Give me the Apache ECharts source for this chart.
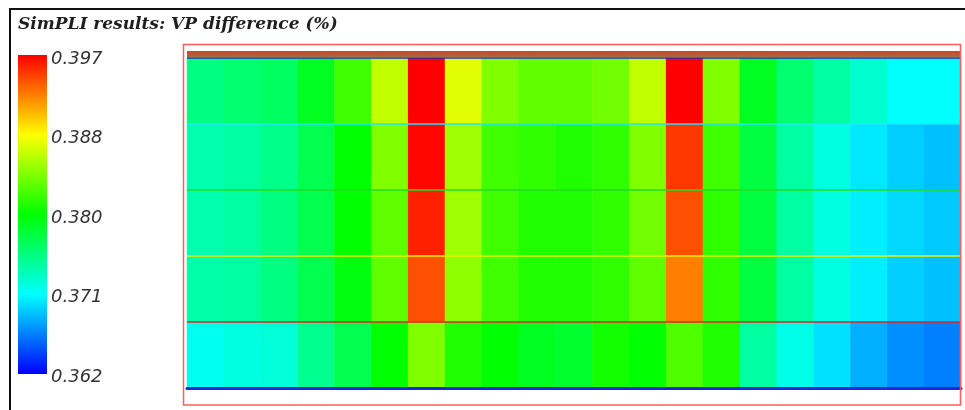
<!DOCTYPE html>
<html>
<head>
<meta charset="utf-8">
<script src="https://cdn.jsdelivr.net/npm/echarts@6/dist/echarts.min.js"></script>
<style>
  html, body { margin: 0; padding: 0; background: #fff; }
  #chart { width: 965px; height: 410px; }
</style>
</head>
<body>
<div id="chart"></div>
<script>
// Slices along the profile (columns) and layers from top to bottom (rows)
const columns = ['1','2','3','4','5','6','7','8','9','10','11','12','13','14','15','16','17','18','19','20','21'];
const layers = ['L1', 'L2', 'L3', 'L4', 'L5'];

// VP difference (%) per slice, one array per layer
const layer1 = [0.3751, 0.3757, 0.3762, 0.3784, 0.3817, 0.3861, 0.3970, 0.3872, 0.3839, 0.3828, 0.3828,
                0.3834, 0.3861, 0.3970, 0.3839, 0.3784, 0.3757, 0.3740, 0.3724, 0.3708, 0.3708];
const layer2 = [0.3735, 0.3740, 0.3748, 0.3768, 0.3795, 0.3839, 0.3968, 0.3850, 0.3817, 0.3811, 0.3806,
                0.3811, 0.3839, 0.3951, 0.3817, 0.3773, 0.3740, 0.3718, 0.3700, 0.3691, 0.3686];
const layer3 = [0.3735, 0.3740, 0.3751, 0.3768, 0.3795, 0.3828, 0.3959, 0.3850, 0.3817, 0.3806, 0.3806,
                0.3811, 0.3834, 0.3943, 0.3811, 0.3773, 0.3740, 0.3718, 0.3702, 0.3694, 0.3689];
const layer4 = [0.3737, 0.3740, 0.3751, 0.3768, 0.3790, 0.3828, 0.3943, 0.3844, 0.3817, 0.3806, 0.3806,
                0.3811, 0.3828, 0.3926, 0.3811, 0.3773, 0.3740, 0.3718, 0.3702, 0.3691, 0.3686];
const layer5 = [0.3713, 0.3718, 0.3721, 0.3746, 0.3768, 0.3795, 0.3839, 0.3806, 0.3795, 0.3784, 0.3779,
                0.3801, 0.3795, 0.3822, 0.3806, 0.3740, 0.3715, 0.3697, 0.3680, 0.3669, 0.3664];

// Colour scale
const scaleMin = 0.362;
const scaleMax = 0.397;
const scaleTicks = ['0.362', '0.371', '0.380', '0.388', '0.397'];
const jet = ['#0000ff', '#00ffff', '#00ff00', '#ffff00', '#ff0000'];
const layerLineColors = ['#2a2ab8', '#22e4ff', '#22dd22', '#f2f200', '#e02424', '#1428e6'];

const layerValues = [layer1, layer2, layer3, layer4, layer5];
const cells = [];
layerValues.forEach((vals, row) => {
  vals.forEach((v, col) => cells.push([col, row, v]));
});

// Square-cornered colour bar: top = max (red), bottom = min (blue)
const barStops = jet.slice().reverse().map((c, i, arr) => ({ offset: i / (arr.length - 1), color: c }));

const chart = echarts.init(document.getElementById('chart'), null, { renderer: 'canvas' });

chart.setOption({
  animation: false,
  backgroundColor: '#ffffff',
  grid: [
    { left: 187, top: 58, width: 774, height: 330 },
    { left: 18, top: 59, width: 29, height: 318 }
  ],
  xAxis: [
    {
      type: 'category', gridIndex: 0, data: columns, z: 10,
      axisLine: { show: true, lineStyle: { color: '#1428e6', width: 3 } },
      axisTick: { show: false }, axisLabel: { show: false }, splitLine: { show: false }
    },
    { type: 'value', gridIndex: 1, show: false }
  ],
  yAxis: [
    {
      type: 'category', gridIndex: 0, data: layers, inverse: true, z: 10,
      axisLine: { show: false }, axisTick: { show: false }, axisLabel: { show: false },
      splitLine: { show: true, lineStyle: { color: layerLineColors, width: 1.5 } }
    },
    {
      type: 'category', gridIndex: 1, data: scaleTicks, boundaryGap: false, position: 'right',
      axisLine: { show: false }, axisTick: { show: false }, splitLine: { show: false },
      axisLabel: {
        show: true, margin: 4, color: '#333333', fontSize: 18,
        fontStyle: 'italic', fontFamily: 'DejaVu Sans'
      }
    }
  ],
  visualMap: {
    type: 'continuous',
    show: false,
    min: scaleMin, max: scaleMax,
    seriesIndex: 0,
    inRange: { color: jet }
  },
  series: [
    {
      type: 'heatmap',
      xAxisIndex: 0, yAxisIndex: 0,
      data: cells,
      itemStyle: { borderWidth: 0 },
      emphasis: { disabled: true }
    }
  ],
  graphic: [
    {
      type: 'rect', z: 0, silent: true,
      shape: { x: 10, y: 9, width: 1000, height: 500 },
      style: { fill: 'none', stroke: '#111111', lineWidth: 2 }
    },
    {
      type: 'text', z: 20, silent: true,
      x: 18, y: 25,
      style: {
        text: 'SimPLI results: VP difference (%)',
        font: 'italic bold 17px "DejaVu Serif"',
        fill: '#1e1e1e',
        verticalAlign: 'middle'
      }
    },
    {
      type: 'rect', z: 5, silent: true,
      shape: { x: 18, y: 55, width: 29, height: 319 },
      style: { fill: new echarts.graphic.LinearGradient(0, 0, 0, 1, barStops) }
    },
    {
      type: 'rect', z: 20, silent: true,
      shape: { x: 187, y: 51, width: 774, height: 6 },
      style: {
        fill: new echarts.graphic.LinearGradient(0, 0, 0, 1, [
          { offset: 0, color: '#d8401e' },
          { offset: 1, color: '#9a7048' }
        ])
      }
    },
    {
      type: 'rect', z: 30, silent: true,
      shape: { x: 183.5, y: 44.5, width: 777, height: 360.5 },
      style: { fill: 'none', stroke: '#ff5c5c', lineWidth: 1.5 }
    }
  ]
});
</script>
</body>
</html>
